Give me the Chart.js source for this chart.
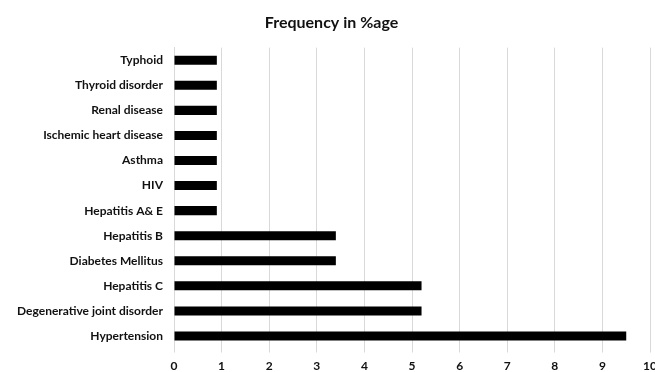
<!DOCTYPE html>
<html>
<head>
<meta charset="utf-8">
<script src="https://cdn.jsdelivr.net/npm/chart.js@4"></script>
<style>
  html, body { margin: 0; padding: 0; background: #fff; overflow: hidden; }
  #wrap { width: 663px; height: 372px; }
</style>
</head>
<body>
<div id="wrap"><canvas id="chart"></canvas></div>
<script>
// Datos
const conditions = ['Typhoid', 'Thyroid disorder', 'Renal disease', 'Ischemic heart disease', 'Asthma', 'HIV',
    'Hepatitis A& E', 'Hepatitis B', 'Diabetes Mellitus', 'Hepatitis C', 'Degenerative joint disorder', 'Hypertension'];
const frequency = [0.9, 0.9, 0.9, 0.9, 0.9, 0.9, 0.9, 3.4, 3.4, 5.2, 5.2, 9.5];
const xTicks = [0, 1, 2, 3, 4, 5, 6, 7, 8, 9, 10];

const font = { family: 'Lato, "Open Sans", sans-serif', size: 12, weight: 'bold' };

new Chart(document.getElementById('chart'), {
    type: 'bar',
    data: {
        labels: conditions,
        datasets: [{
            label: 'Frequency in %age',
            data: frequency,
            backgroundColor: '#000',
            borderWidth: 0,
            barPercentage: 0.36,
            categoryPercentage: 1
        }]
    },
    options: {
        indexAxis: 'y',
        responsive: true,
        maintainAspectRatio: false,
        animation: false,
        layout: { padding: 0 },
        plugins: {
            legend: { display: false },
            tooltip: { enabled: false },
            title: {
                display: true,
                text: 'Frequency in %age',
                color: '#111',
                font: { family: font.family, size: 16, weight: 'bold' },
                padding: { top: 13, bottom: 15.5 }
            }
        },
        scales: {
            x: {
                min: xTicks[0],
                max: xTicks[xTicks.length - 1],
                afterBuildTicks: scale => { scale.ticks = xTicks.map(v => ({ value: v })); },
                afterFit: scale => { scale.height = 23.5; },
                grid: { color: '#d9d9d9', lineWidth: 1, tickLength: 4 },
                border: { display: false },
                ticks: { color: '#111', font: font, padding: 6, maxRotation: 0 }
            },
            y: {
                afterFit: scale => { scale.width = 174; },
                grid: { display: false, drawTicks: false },
                border: { display: true, color: '#d9d9d9' },
                ticks: { color: '#111', font: font, padding: 11 }
            }
        }
    }
});
</script>
</body>
</html>
